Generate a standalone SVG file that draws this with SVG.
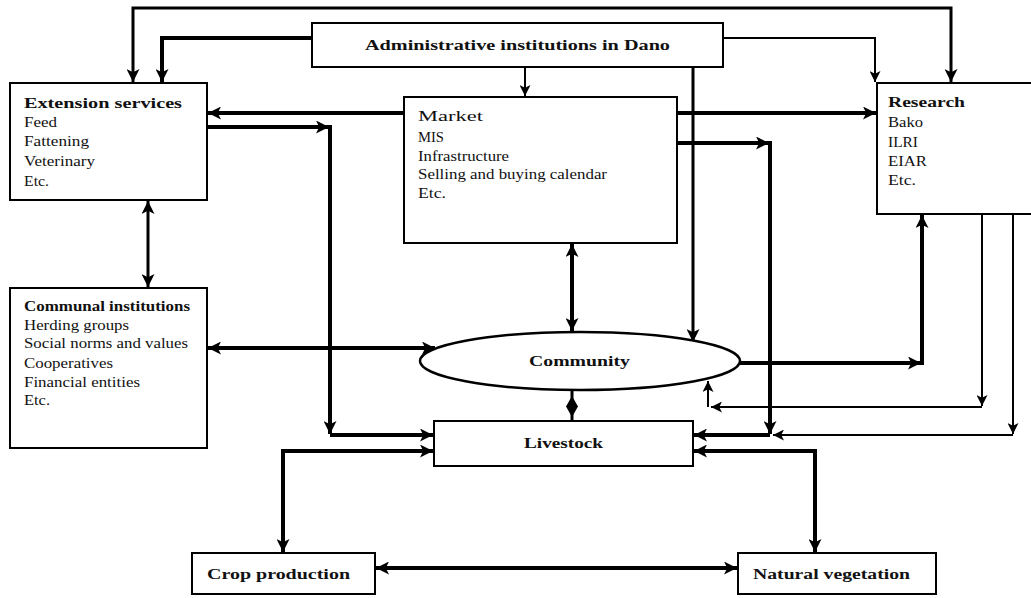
<svg xmlns="http://www.w3.org/2000/svg" width="1031" height="598" viewBox="0 0 1031 598">
<style>
.box{fill:#fff;stroke:#000;stroke-width:2}
.t{font-family:"Liberation Serif","Times New Roman",serif;font-size:15px;fill:#111}
.b{font-weight:bold}
.c{text-anchor:middle}
.k{fill:none;stroke:#000;stroke-width:4}
.m{fill:none;stroke:#000;stroke-width:3}
.n{fill:none;stroke:#000;stroke-width:2}
.k,.m{marker-end:url(#ah)}
.n{marker-end:url(#at)}
.d{marker-start:url(#ah)}
.dn{marker-start:url(#at)}
.nomk{marker-end:none}
</style>
<defs>
<marker id="ah" viewBox="0 0 12 12" refX="12" refY="6" markerUnits="userSpaceOnUse" markerWidth="15" markerHeight="13" orient="auto-start-reverse">
<path d="M0,0 L12,6 L0,12 L3,6 z" fill="#000"/>
</marker>
<marker id="at" viewBox="0 0 12 12" refX="12" refY="6" markerUnits="userSpaceOnUse" markerWidth="11" markerHeight="11" orient="auto-start-reverse">
<path d="M0,0 L12,6 L0,12 L3,6 z" fill="#000"/>
</marker>
</defs>
<rect width="1031" height="598" fill="#fff"/>

<g id="connectors">
<path class="m d" d="M133,82 V8 H951 V82"/>
<path class="k" d="M312,38 H162 V82"/>
<path class="n" d="M723,38 H875 V82"/>
<path class="n" d="M525,67 V96"/>
<path class="m" d="M693,67 V342"/>
<path class="k" d="M404,113 H208"/>
<path class="k" d="M677,113 H876"/>
<path class="k" d="M207,127 H329"/>
<path class="k" d="M330,125 V434"/>
<path class="k" d="M330,435 H433"/>
<path class="k" d="M677,143 H769"/>
<path class="k" d="M770,141 V434"/>
<path class="k" d="M770,435 H694"/>
<path class="m d" d="M148,201 V287"/>
<path class="k d" d="M572,244 V331"/>
<path class="k d" d="M208,348 H435"/>
<path class="k" d="M740,363 H921"/>
<path class="k" d="M922,365 V215"/>
<path class="n" d="M982,214 V406"/>
<path class="n" d="M982,407 H711"/>
<path class="n" d="M708,407 V381"/>
<path class="n" d="M1013,214 V434"/>
<path class="n" d="M1013,435 H773"/>
<path class="m nomk" d="M572,391 V421"/>
<polygon points="572,396 578,406.5 572,417 566,406.5" fill="#000"/>
<path class="k d" d="M283,552 V451 H433"/>
<path class="k d" d="M694,451 H815 V552"/>
<path class="k d" d="M376,568 H737"/>
</g>

<g id="admin">
<rect class="box" x="312" y="23" width="411" height="44"/>
<text class="t b" x="365" y="50" textLength="305" lengthAdjust="spacingAndGlyphs">Administrative institutions in Dano</text>
</g>

<g id="extension">
<rect class="box" x="10" y="83" width="197" height="117"/>
<text class="t b" x="24" y="108" font-size="16" textLength="158" lengthAdjust="spacingAndGlyphs">Extension services</text>
<text class="t" x="24" y="127" textLength="33" lengthAdjust="spacingAndGlyphs">Feed</text>
<text class="t" x="24" y="146" textLength="65" lengthAdjust="spacingAndGlyphs">Fattening</text>
<text class="t" x="24" y="166" textLength="71" lengthAdjust="spacingAndGlyphs">Veterinary</text>
<text class="t" x="24" y="186" textLength="25" lengthAdjust="spacingAndGlyphs">Etc.</text>
</g>

<g id="market">
<rect class="box" x="404" y="97" width="273" height="146"/>
<text class="t" x="418" y="121" font-size="17" textLength="65" lengthAdjust="spacingAndGlyphs">Market</text>
<text class="t" x="418" y="142" textLength="26" lengthAdjust="spacingAndGlyphs">MIS</text>
<text class="t" x="418" y="161" textLength="91" lengthAdjust="spacingAndGlyphs">Infrastructure</text>
<text class="t" x="418" y="179" textLength="189" lengthAdjust="spacingAndGlyphs">Selling and buying calendar</text>
<text class="t" x="418" y="198" textLength="28" lengthAdjust="spacingAndGlyphs">Etc.</text>
</g>

<g id="research">
<rect class="box" x="877" y="83" width="158" height="131"/>
<text class="t b" x="888" y="107" font-size="16" textLength="77" lengthAdjust="spacingAndGlyphs">Research</text>
<text class="t" x="888" y="127" textLength="35" lengthAdjust="spacingAndGlyphs">Bako</text>
<text class="t" x="888" y="147" textLength="30" lengthAdjust="spacingAndGlyphs">ILRI</text>
<text class="t" x="888" y="166" textLength="39" lengthAdjust="spacingAndGlyphs">EIAR</text>
<text class="t" x="888" y="185" textLength="28" lengthAdjust="spacingAndGlyphs">Etc.</text>
</g>

<g id="communal">
<rect class="box" x="10" y="288" width="197" height="160"/>
<text class="t b" x="24" y="311" textLength="166" lengthAdjust="spacingAndGlyphs">Communal institutions</text>
<text class="t" x="24" y="330" textLength="105" lengthAdjust="spacingAndGlyphs">Herding groups</text>
<text class="t" x="24" y="348" textLength="164" lengthAdjust="spacingAndGlyphs">Social norms and values</text>
<text class="t" x="24" y="368" textLength="89" lengthAdjust="spacingAndGlyphs">Cooperatives</text>
<text class="t" x="24" y="387" textLength="116" lengthAdjust="spacingAndGlyphs">Financial entities</text>
<text class="t" x="24" y="405" textLength="26" lengthAdjust="spacingAndGlyphs">Etc.</text>
</g>

<g id="community">
<ellipse cx="580" cy="361" rx="160" ry="29" fill="#fff" stroke="#000" stroke-width="2.5"/>
<text class="t b" x="529" y="366" textLength="101" lengthAdjust="spacingAndGlyphs">Community</text>
</g>

<g id="livestock">
<rect class="box" x="434" y="421" width="259" height="45"/>
<text class="t b" x="524" y="448" textLength="79" lengthAdjust="spacingAndGlyphs">Livestock</text>
</g>

<g id="crop">
<rect class="box" x="192" y="553" width="183" height="41"/>
<text class="t b" x="207" y="579" textLength="143" lengthAdjust="spacingAndGlyphs">Crop production</text>
</g>

<g id="vegetation">
<rect class="box" x="738" y="553" width="198" height="41"/>
<text class="t b" x="753" y="579" textLength="157" lengthAdjust="spacingAndGlyphs">Natural vegetation</text>
</g>
</svg>
